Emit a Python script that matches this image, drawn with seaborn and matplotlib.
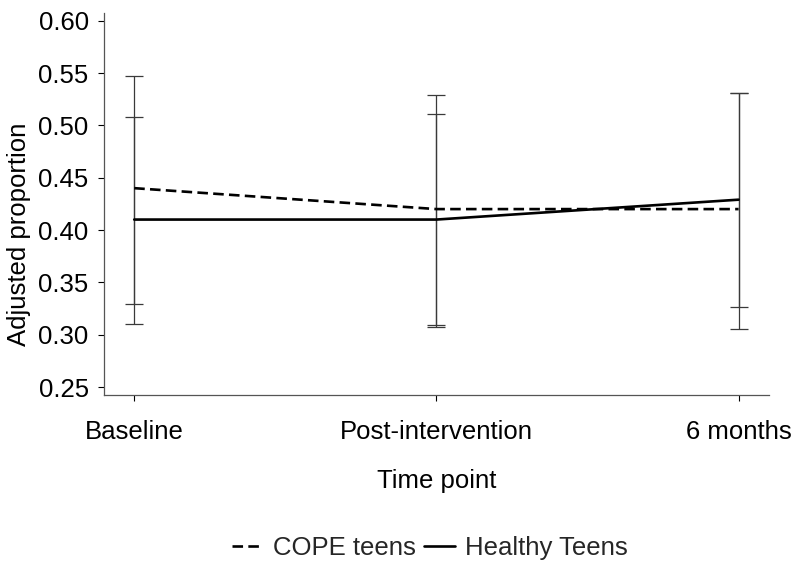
import matplotlib
matplotlib.use("Agg")
import matplotlib.pyplot as plt
import seaborn as sns
import pandas as pd
import numpy as np

timepoints = ["Baseline", "Post-intervention", "6 months"]
cope_mean = [0.44, 0.42, 0.42]
cope_low = [0.31, 0.307, 0.305]
cope_high = [0.547, 0.529, 0.531]
healthy_mean = [0.41, 0.41, 0.429]
healthy_low = [0.329, 0.309, 0.326]
healthy_high = [0.508, 0.511, 0.531]
yticks = [0.25, 0.30, 0.35, 0.40, 0.45, 0.50, 0.55, 0.60]

sns.set_theme(style="white")
plt.rcParams["font.family"] = ["Liberation Sans", "DejaVu Sans"]

df = pd.DataFrame({
    "x": list(range(3)) * 2,
    "y": cope_mean + healthy_mean,
    "group": ["COPE teens"] * 3 + ["Healthy Teens"] * 3,
})

fig = plt.figure(figsize=(8, 5.69), dpi=100)
ax = fig.add_axes([0.13, 0.3058, 0.831, 0.6713])

gray = "#3a3a3a"
x = np.arange(3)
for m, lo, hi in [(cope_mean, cope_low, cope_high), (healthy_mean, healthy_low, healthy_high)]:
    m = np.array(m); lo = np.array(lo); hi = np.array(hi)
    ax.errorbar(x, m, yerr=[m - lo, hi - m], fmt="none", ecolor=gray,
                elinewidth=0.9, capsize=6.5, capthick=0.9, zorder=1)

sns.lineplot(data=df, x="x", y="y", hue="group", style="group",
             palette=["black", "black"],
             dashes={"COPE teens": (4, 2), "Healthy Teens": ""},
             linewidth=1.9, ax=ax, legend=True, zorder=3)

fs = 18.5
ax.set_xlim(-0.1, 2.1)
ax.set_ylim(0.2424, 0.6073)
ax.set_yticks(yticks)
ax.set_yticklabels([f"{v:.2f}" for v in yticks])
ax.set_xticks(x)
ax.set_xticklabels(timepoints)
ax.tick_params(axis="both", labelsize=fs, colors="black", length=4, width=0.8,
               direction="out", bottom=True, left=True)
ax.tick_params(axis="y", pad=7)
ax.tick_params(axis="x", pad=14)
for t in ax.get_xticklines() + ax.get_yticklines():
    t.set_color("#555555")
for s in ["top", "right"]:
    ax.spines[s].set_visible(False)
for s in ["left", "bottom"]:
    ax.spines[s].set_color("#555555")
    ax.spines[s].set_linewidth(0.9)

ax.set_xlabel("Time point", fontsize=fs, labelpad=18, color="black")
ax.set_ylabel("Adjusted proportion", fontsize=fs, color="black")
ax.yaxis.set_label_coords(-0.110, 0.42)

handles, labels = ax.get_legend_handles_labels()
ax.legend(handles, labels, loc="center", bbox_to_anchor=(430 / 800, 1 - 548 / 569),
          bbox_transform=fig.transFigure, ncol=2, frameon=False, fontsize=fs,
          handlelength=1.2, handletextpad=0.4, columnspacing=0.3)

fig.savefig("out.png", dpi=100)
